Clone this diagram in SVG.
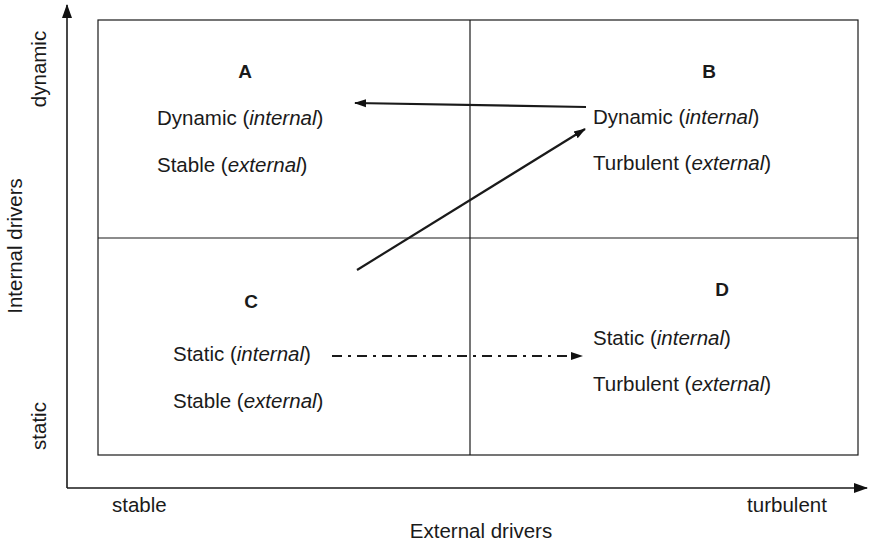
<svg xmlns="http://www.w3.org/2000/svg" width="873" height="545" viewBox="0 0 873 545">
<defs>
<style>
text{font-family:"Liberation Sans",Arial,sans-serif;font-size:20.5px;fill:#1a1a1a}
.b{font-weight:bold;font-size:19px}
.i{font-style:italic}
.ln{stroke:#1a1a1a;fill:none}
</style>
<marker id="ah" viewBox="0 0 12 10" refX="11" refY="5" markerWidth="12" markerHeight="10" markerUnits="userSpaceOnUse" orient="auto"><path d="M0,1 L12,5 L0,9 Z" fill="#111"/></marker>
<marker id="ax" viewBox="0 0 14 12" refX="13" refY="6" markerWidth="14" markerHeight="12" markerUnits="userSpaceOnUse" orient="auto"><path d="M0,1 L14,6 L0,11 Z" fill="#111"/></marker>
</defs>
<rect width="873" height="545" fill="#fff"/>
<g id="axes">
<line class="ln" x1="67" y1="488" x2="67" y2="5" stroke-width="1.6" marker-end="url(#ax)"/>
<line class="ln" x1="67" y1="488" x2="867" y2="488" stroke-width="1.6" marker-end="url(#ax)"/>
<text transform="translate(46,69) rotate(-90)" text-anchor="middle">dynamic</text>
<text transform="translate(46,426) rotate(-90)" text-anchor="middle">static</text>
<text transform="translate(22,246) rotate(-90)" text-anchor="middle">Internal drivers</text>
<text x="112" y="512">stable</text>
<text x="787" y="512" text-anchor="middle">turbulent</text>
<text x="481" y="538" text-anchor="middle">External drivers</text>
</g>
<g id="grid">
<rect class="ln" x="98" y="20" width="760" height="435" stroke-width="1.2"/>
<line class="ln" x1="470" y1="20" x2="470" y2="455" stroke-width="1.2"/>
<line class="ln" x1="98" y1="238" x2="858" y2="238" stroke-width="1.2"/>
</g>
<g id="A">
<text class="b" x="245" y="78" text-anchor="middle">A</text>
<text x="157" y="125">Dynamic (<tspan class="i">internal</tspan>)</text>
<text x="157" y="172">Stable (<tspan class="i">external</tspan>)</text>
</g>
<g id="B">
<text class="b" x="709" y="78" text-anchor="middle">B</text>
<text x="593" y="124">Dynamic (<tspan class="i">internal</tspan>)</text>
<text x="593" y="170">Turbulent (<tspan class="i">external</tspan>)</text>
</g>
<g id="C">
<text class="b" x="251" y="308" text-anchor="middle">C</text>
<text x="173" y="361">Static (<tspan class="i">internal</tspan>)</text>
<text x="173" y="408">Stable (<tspan class="i">external</tspan>)</text>
</g>
<g id="D">
<text class="b" x="722" y="296" text-anchor="middle">D</text>
<text x="593" y="345">Static (<tspan class="i">internal</tspan>)</text>
<text x="593" y="391">Turbulent (<tspan class="i">external</tspan>)</text>
</g>
<g id="connectors">
<line class="ln" x1="586" y1="107" x2="355" y2="103" stroke-width="2.2" marker-end="url(#ah)"/>
<line class="ln" x1="357" y1="270" x2="585" y2="129" stroke-width="2.2" marker-end="url(#ah)"/>
<line class="ln" x1="332" y1="356" x2="582" y2="356" stroke-width="2.2" stroke-dasharray="10,6,3,6" marker-end="url(#ah)"/>
</g>
</svg>
